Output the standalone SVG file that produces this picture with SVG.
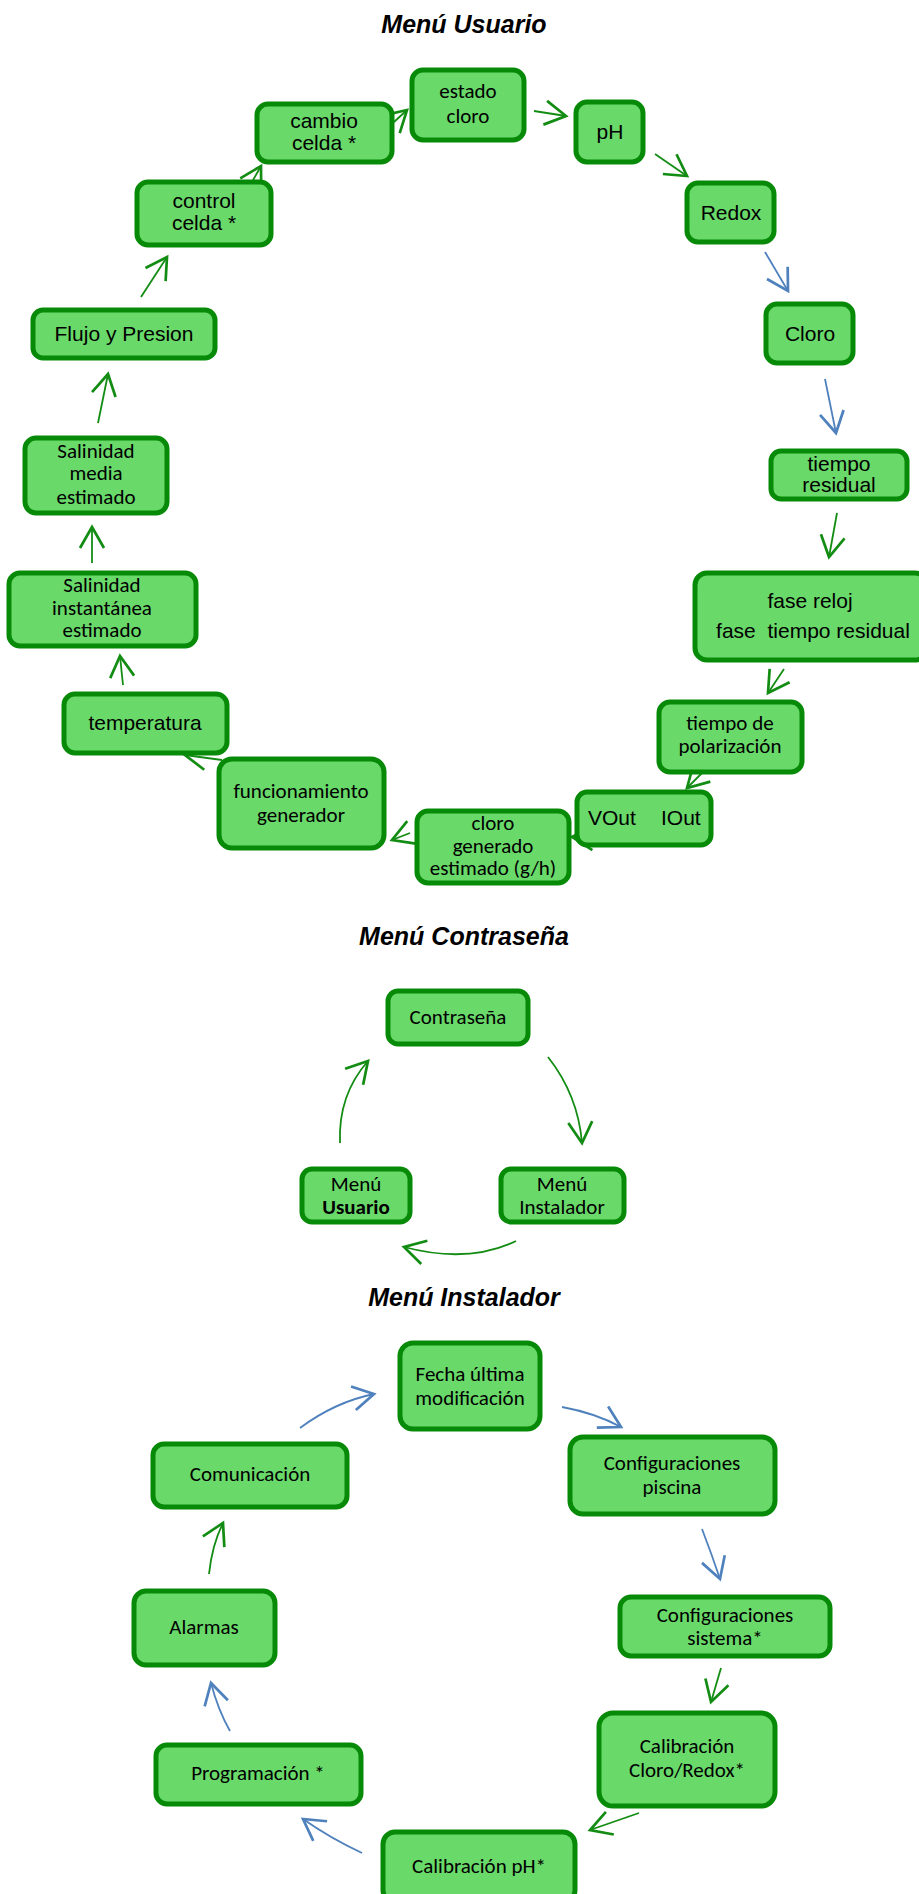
<svg xmlns="http://www.w3.org/2000/svg" width="919" height="1894" viewBox="0 0 919 1894">
  <defs>
    <style>
      .box { fill: #69d96a; stroke: #078a07; stroke-width: 5; }
      .t { font-family: "Liberation Sans", Arial, sans-serif; font-size: 21px; fill: #000; text-anchor: middle; }
      .c { font-family: Carlito, Lato, sans-serif; font-size: 21px; fill: #000; text-anchor: middle; }
      .title { font-family: "Liberation Sans", Arial, sans-serif; font-size: 25px; font-weight: bold; font-style: italic; fill: #000; text-anchor: middle; }
      .g { fill: none; stroke: #138c13; stroke-width: 1.8; marker-end: url(#hg); }
      .b { fill: none; stroke: #4f81bd; stroke-width: 1.8; marker-end: url(#hb); }
    </style>
    <marker id="hg" markerUnits="userSpaceOnUse" markerWidth="30" markerHeight="30" refX="0" refY="0" viewBox="-16 -10 20 20" orient="auto" overflow="visible">
      <polyline points="-14,-8 0,0 -14,8" fill="none" stroke="#138c13" stroke-width="1.8"/>
    </marker>
    <marker id="hb" markerUnits="userSpaceOnUse" markerWidth="30" markerHeight="30" refX="0" refY="0" viewBox="-16 -10 20 20" orient="auto" overflow="visible">
      <polyline points="-14,-8 0,0 -14,8" fill="none" stroke="#4f81bd" stroke-width="1.8"/>
    </marker>
  </defs>
  <rect width="919" height="1894" fill="#fff"/>

  <!-- section titles -->
  <text class="title" x="464" y="33">Menú Usuario</text>
  <text class="title" x="464" y="945">Menú Contraseña</text>
  <text class="title" x="464" y="1306">Menú Instalador</text>

  <!-- connectors -->
  <g id="connectors">
    <!-- user menu loop -->
    <path class="g" d="M141,297 L167,257"/>
    <path class="g" d="M252,182 L261,166"/>
    <path class="g" d="M394,122 L407,110"/>
    <path class="g" d="M534,111 L566,116"/>
    <path class="g" d="M655,154 L687,176"/>
    <path class="b" d="M765,252 L788,291"/>
    <path class="b" d="M825,379 L836,433"/>
    <path class="g" d="M837,513 L829,557"/>
    <path class="g" d="M784,669 L768,693"/>
    <path class="g" d="M702,773 L687,788"/>
    <path class="g" d="M592,838 L572,837"/>
    <path class="g" d="M410,833 L392,840"/>
    <path class="g" d="M222,760 L185,755"/>
    <path class="g" d="M123,685 L120,656"/>
    <path class="g" d="M92,563 L92,527"/>
    <path class="g" d="M98,423 L108,374"/>
    <!-- password menu loop -->
    <path class="g" d="M548,1057 Q578,1095 582,1143"/>
    <path class="g" d="M516,1241 Q468,1264 404,1247"/>
    <path class="g" d="M340,1143 Q338,1095 368,1061"/>
    <!-- installer menu loop -->
    <path class="b" d="M300,1428 Q335,1402 374,1394"/>
    <path class="b" d="M562,1407 Q595,1413 621,1427"/>
    <path class="b" d="M702,1529 Q712,1555 720,1579"/>
    <path class="g" d="M721,1668 L711,1702"/>
    <path class="g" d="M639,1813 L590,1830"/>
    <path class="b" d="M362,1853 Q330,1838 303,1819"/>
    <path class="b" d="M230,1731 Q218,1710 211,1683"/>
    <path class="g" d="M209,1574 Q212,1545 223,1523"/>
  </g>

  <!-- user menu nodes -->
  <g id="estado-cloro">
    <rect class="box" x="412" y="70" width="112" height="70" rx="11"/>
    <text class="c" x="468" y="98">estado</text>
    <text class="c" x="468" y="123">cloro</text>
  </g>
  <g id="ph">
    <rect class="box" x="576" y="102" width="67" height="60" rx="11"/>
    <text class="t" x="610" y="139">pH</text>
  </g>
  <g id="redox">
    <rect class="box" x="687" y="183" width="87" height="59" rx="11"/>
    <text class="t" x="731" y="220">Redox</text>
  </g>
  <g id="cloro">
    <rect class="box" x="766" y="304" width="87" height="59" rx="11"/>
    <text class="t" x="810" y="341">Cloro</text>
  </g>
  <g id="tiempo-residual">
    <rect class="box" x="771" y="451" width="136" height="48" rx="10"/>
    <text class="t" x="839" y="471">tiempo</text>
    <text class="t" x="839" y="492">residual</text>
  </g>
  <g id="fase">
    <rect class="box" x="695" y="573" width="232" height="87" rx="12"/>
    <text class="t" x="810" y="608">fase reloj</text>
    <text class="t" x="813" y="638" xml:space="preserve">fase  tiempo residual</text>
  </g>
  <g id="tiempo-polarizacion">
    <rect class="box" x="659" y="702" width="143" height="70" rx="11"/>
    <text class="c" x="730" y="730">tiempo de</text>
    <text class="c" x="730" y="753">polarización</text>
  </g>
  <g id="vout-iout">
    <rect class="box" x="577" y="792" width="134" height="53" rx="10"/>
    <text class="t" x="588" y="825" style="text-anchor:start">VOut</text>
    <text class="t" x="661" y="825" style="text-anchor:start">IOut</text>
  </g>
  <g id="cloro-generado">
    <rect class="box" x="417" y="811" width="152" height="72" rx="11"/>
    <text class="c" x="493" y="830">cloro</text>
    <text class="c" x="493" y="853">generado</text>
    <text class="c" x="493" y="875">estimado (g/h)</text>
  </g>
  <g id="funcionamiento-generador">
    <rect class="box" x="219" y="759" width="165" height="89" rx="13"/>
    <text class="c" x="301" y="798">funcionamiento</text>
    <text class="c" x="301" y="822">generador</text>
  </g>
  <g id="temperatura">
    <rect class="box" x="64" y="694" width="163" height="59" rx="11"/>
    <text class="t" x="145" y="730">temperatura</text>
  </g>
  <g id="salinidad-instantanea">
    <rect class="box" x="9" y="573" width="187" height="73" rx="11"/>
    <text class="c" x="102" y="592">Salinidad</text>
    <text class="c" x="102" y="615">instantánea</text>
    <text class="c" x="102" y="637">estimado</text>
  </g>
  <g id="salinidad-media">
    <rect class="box" x="25" y="438" width="142" height="75" rx="11"/>
    <text class="c" x="96" y="458">Salinidad</text>
    <text class="c" x="96" y="480">media</text>
    <text class="c" x="96" y="504">estimado</text>
  </g>
  <g id="flujo-presion">
    <rect class="box" x="33" y="310" width="182" height="48" rx="10"/>
    <text class="t" x="124" y="341">Flujo y Presion</text>
  </g>
  <g id="control-celda">
    <rect class="box" x="137" y="182" width="134" height="63" rx="11"/>
    <text class="t" x="204" y="208">control</text>
    <text class="t" x="204" y="230">celda *</text>
  </g>
  <g id="cambio-celda">
    <rect class="box" x="257" y="104" width="135" height="58" rx="11"/>
    <text class="t" x="324" y="128">cambio</text>
    <text class="t" x="324" y="150">celda *</text>
  </g>

  <!-- password menu nodes -->
  <g id="contrasena">
    <rect class="box" x="388" y="991" width="140" height="53" rx="10"/>
    <text class="c" x="458" y="1024">Contraseña</text>
  </g>
  <g id="menu-usuario">
    <rect class="box" x="302" y="1169" width="108" height="53" rx="10"/>
    <text class="c" x="356" y="1191">Menú</text>
    <text class="c" x="356" y="1214" font-weight="bold">Usuario</text>
  </g>
  <g id="menu-instalador">
    <rect class="box" x="501" y="1169" width="123" height="53" rx="10"/>
    <text class="c" x="562" y="1191">Menú</text>
    <text class="c" x="562" y="1214">Instalador</text>
  </g>

  <!-- installer menu nodes -->
  <g id="fecha-ultima-modificacion">
    <rect class="box" x="400" y="1343" width="140" height="86" rx="13"/>
    <text class="c" x="470" y="1381">Fecha última</text>
    <text class="c" x="470" y="1405">modificación</text>
  </g>
  <g id="configuraciones-piscina">
    <rect class="box" x="570" y="1437" width="205" height="77" rx="13"/>
    <text class="c" x="672" y="1470">Configuraciones</text>
    <text class="c" x="672" y="1494">piscina</text>
  </g>
  <g id="configuraciones-sistema">
    <rect class="box" x="620" y="1597" width="210" height="59" rx="11"/>
    <text class="c" x="725" y="1622">Configuraciones</text>
    <text class="c" x="725" y="1645">sistema*</text>
  </g>
  <g id="calibracion-cloro-redox">
    <rect class="box" x="599" y="1713" width="176" height="93" rx="14"/>
    <text class="c" x="687" y="1753">Calibración</text>
    <text class="c" x="687" y="1777">Cloro/Redox*</text>
  </g>
  <g id="calibracion-ph">
    <rect class="box" x="383" y="1832" width="192" height="70" rx="12"/>
    <text class="c" x="479" y="1873">Calibración pH*</text>
  </g>
  <g id="programacion">
    <rect class="box" x="156" y="1745" width="205" height="59" rx="11"/>
    <text class="c" x="258" y="1780">Programación *</text>
  </g>
  <g id="alarmas">
    <rect class="box" x="134" y="1591" width="141" height="74" rx="12"/>
    <text class="c" x="204" y="1634">Alarmas</text>
  </g>
  <g id="comunicacion">
    <rect class="box" x="153" y="1444" width="194" height="63" rx="11"/>
    <text class="c" x="250" y="1481">Comunicación</text>
  </g>
</svg>
